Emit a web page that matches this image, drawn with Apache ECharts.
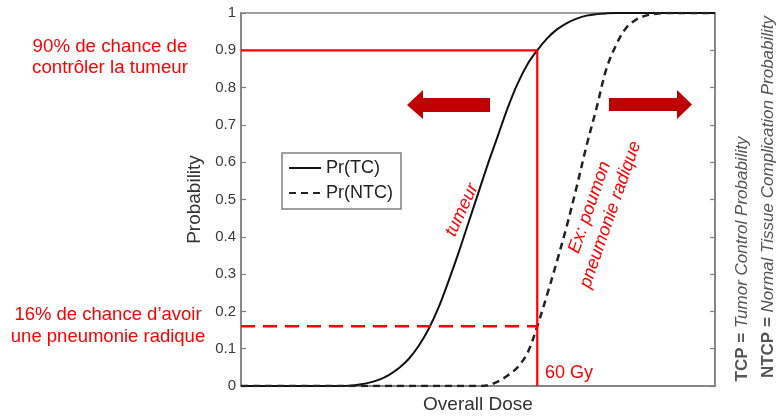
<!DOCTYPE html>
<html>
<head>
    <meta charset="utf-8">
    <title>TCP / NTCP</title>
    <script src="https://cdn.jsdelivr.net/npm/echarts@6/dist/echarts.min.js"></script>
</head>
<body style="margin:0">
    <div id="main" style="width: 777px;height:416px;"></div>
    <script type="text/javascript">
        // doses (arbitrary units, 60 = 60 Gy) and probabilities
        var doses = [0, 20, 22, 24, 26, 28, 30, 32, 34, 36, 38, 40, 42, 44, 46, 48, 50, 52, 54, 56, 58, 60,
            62, 64, 66, 68, 70, 72, 74, 76, 78, 80, 82, 84, 86, 96];
        var prTC = [0, 0, 0.001, 0.004, 0.009, 0.017, 0.03, 0.048, 0.073, 0.108, 0.153, 0.21, 0.28, 0.355,
            0.435, 0.515, 0.595, 0.67, 0.745, 0.81, 0.862, 0.9, 0.932, 0.956, 0.973, 0.985, 0.993, 0.997,
            0.999, 1, 1, 1, 1, 1, 1, 1];
        var prNTC = [0, 0, 0, 0, 0, 0, 0, 0, 0, 0, 0, 0, 0, 0, 0, 0, 0.002, 0.012, 0.028, 0.05, 0.088, 0.16,
            0.245, 0.335, 0.43, 0.535, 0.645, 0.745, 0.85, 0.915, 0.96, 0.982, 0.993, 0.998, 1, 1];
        var yTicks = [0, 0.1, 0.2, 0.3, 0.4, 0.5, 0.6, 0.7, 0.8, 0.9, 1];
        var refDose = 60;       // 60 Gy
        var tcAtRef = 0.9;      // 90 % control
        var ntcAtRef = 0.16;    // 16 % complication

        var RED = '#ff0000';
        var DARKRED = '#c00000';
        var FONT = 'Liberation Sans, Arial, sans-serif';

        function pairs(xs, ys) {
            return xs.map(function (x, i) { return [x, ys[i]]; });
        }

        var myChart = echarts.init(document.getElementById('main'));

        var yAxisBase = {
            type: 'value',
            min: yTicks[0],
            max: yTicks[yTicks.length - 1],
            interval: 0.1,
            splitLine: { show: false },
            axisLine: { show: true, lineStyle: { color: '#808080', width: 1.5 } },
            axisTick: { show: true, inside: true, length: 5, lineStyle: { color: '#808080', width: 1.2 } }
        };

        myChart.setOption({
            animation: false,
            textStyle: { fontFamily: FONT },
            grid: {
                left: 241, right: 62, top: 13, bottom: 30,
                outerBoundsMode: 'none',
                show: true, borderColor: '#808080', borderWidth: 1.5
            },
            xAxis: {
                type: 'value',
                min: 0,
                max: 96,
                name: 'Overall Dose',
                nameLocation: 'middle',
                nameGap: 9,
                nameTextStyle: { fontSize: 19, color: '#333' },
                axisLine: { show: true, lineStyle: { color: '#808080', width: 1.5 } },
                axisTick: { show: false },
                axisLabel: { show: false },
                splitLine: { show: false }
            },
            yAxis: [
                Object.assign({}, yAxisBase, {
                    position: 'left',
                    name: 'Probability',
                    nameLocation: 'middle',
                    nameGap: 29,
                    nameTextStyle: { fontSize: 19, color: '#333' },
                    axisLabel: { fontSize: 15, color: '#3a3a3a', margin: 5 }
                }),
                Object.assign({}, yAxisBase, {
                    position: 'right',
                    axisLabel: { show: false }
                })
            ],
            legend: {
                data: ['Pr(TC)', 'Pr(NTC)'],
                orient: 'vertical',
                left: 282,
                top: 153,
                padding: [6, 8, 7, 6],
                itemGap: 7,
                itemWidth: 32,
                itemHeight: 14,
                borderColor: '#808080',
                borderWidth: 1.5,
                itemStyle: { color: 'transparent', borderColor: 'transparent', borderWidth: 0 },
                textStyle: { fontSize: 18, color: '#222' }
            },
            series: [
                {
                    name: 'Pr(TC)',
                    type: 'line',
                    data: pairs(doses, prTC),
                    symbol: 'none',
                    smooth: 0.35,
                    lineStyle: { color: '#111', width: 2 },
                    itemStyle: { color: '#111' }
                },
                {
                    name: 'Pr(NTC)',
                    type: 'line',
                    data: pairs(doses, prNTC),
                    symbol: 'none',
                    smooth: 0.35,
                    lineStyle: { color: '#222', width: 2.5, type: [7, 5] },
                    itemStyle: { color: '#222' }
                },
                {
                    type: 'line',
                    data: [[0, tcAtRef], [refDose, tcAtRef], [refDose, 0]],
                    symbol: 'none',
                    lineStyle: { color: RED, width: 2.2 },
                    silent: true
                },
                {
                    type: 'line',
                    data: [[0, ntcAtRef], [refDose, ntcAtRef]],
                    symbol: 'none',
                    lineStyle: { color: RED, width: 2.5, type: [14, 8] },
                    silent: true
                }
            ],
            graphic: [
                // arrows
                {
                    type: 'polygon',
                    shape: { points: [[407, 105], [423, 90], [423, 98], [490, 98], [490, 112], [423, 112], [423, 119]] },
                    style: { fill: DARKRED }
                },
                {
                    type: 'polygon',
                    shape: { points: [[692, 104.5], [677, 90], [677, 98], [609, 98], [609, 111], [677, 111], [677, 119]] },
                    style: { fill: DARKRED }
                },
                // left annotations
                {
                    type: 'text', x: 110, y: 57.5,
                    style: {
                        text: '90% de chance de\ncontrôler la tumeur', fill: RED,
                        font: '18.7px ' + FONT, align: 'center', verticalAlign: 'middle', lineHeight: 21
                    }
                },
                {
                    type: 'text', x: 108, y: 326,
                    style: {
                        text: '16% de chance d\u2019avoir\nune pneumonie radique', fill: RED,
                        font: '18.5px ' + FONT, align: 'center', verticalAlign: 'middle', lineHeight: 22
                    }
                },
                // in-plot annotations
                {
                    type: 'text', x: 462, y: 210, rotation: 65 * Math.PI / 180,
                    style: {
                        text: 'tumeur', fill: RED,
                        font: 'italic 18px ' + FONT, align: 'center', verticalAlign: 'middle'
                    }
                },
                {
                    type: 'text', x: 600, y: 211, rotation: 70.7 * Math.PI / 180,
                    style: {
                        text: 'Ex: poumon\npneumonie radique', fill: RED,
                        font: 'italic 18px ' + FONT, align: 'center', verticalAlign: 'middle', lineHeight: 22
                    }
                },
                {
                    type: 'text', x: 545, y: 373,
                    style: {
                        text: '60 Gy', fill: RED,
                        font: '18px ' + FONT, align: 'left', verticalAlign: 'middle'
                    }
                },
                // definitions on the right
                {
                    type: 'text', x: 742, y: 259, rotation: Math.PI / 2,
                    style: {
                        text: '{b|TCP = }{i|Tumor Control Probability}',
                        align: 'center', verticalAlign: 'middle',
                        rich: {
                            b: { fontSize: 17, fontFamily: FONT, fill: '#555', fontWeight: 'bold' },
                            i: { fontSize: 17, fontFamily: FONT, fill: '#555', fontStyle: 'italic' }
                        }
                    }
                },
                {
                    type: 'text', x: 768, y: 197, rotation: Math.PI / 2,
                    style: {
                        text: '{b|NTCP = }{i|Normal Tissue Complication Probability}',
                        align: 'center', verticalAlign: 'middle',
                        rich: {
                            b: { fontSize: 17, fontFamily: FONT, fill: '#555', fontWeight: 'bold' },
                            i: { fontSize: 17, fontFamily: FONT, fill: '#555', fontStyle: 'italic' }
                        }
                    }
                }
            ]
        });
    </script>
</body>
</html>
